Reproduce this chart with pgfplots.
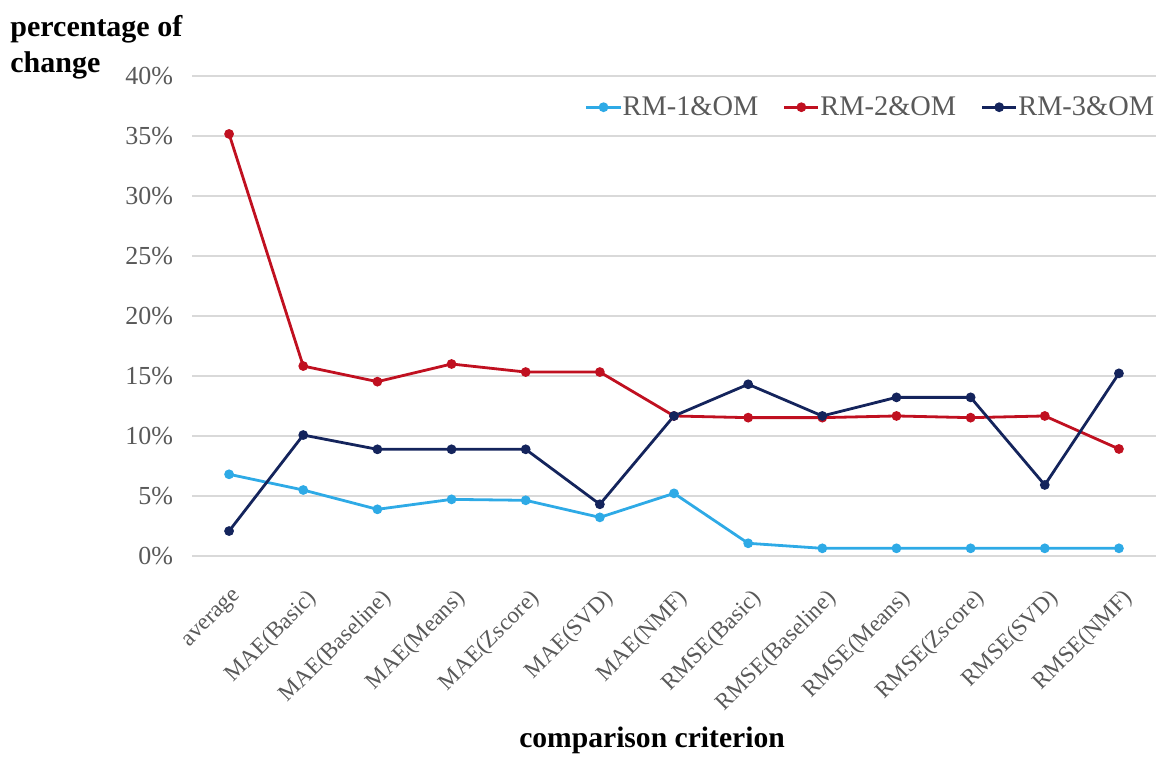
\documentclass[border=0pt]{standalone}
\usepackage{fontspec}
\setmainfont{Liberation Serif}
\usepackage{pgfplots}
\pgfplotsset{compat=1.18}

\definecolor{rmone}{RGB}{46,170,230}
\definecolor{rmtwo}{RGB}{192,16,32}
\definecolor{rmthree}{RGB}{20,36,92}
\definecolor{gridgray}{RGB}{217,217,217}
\definecolor{labelgray}{RGB}{89,89,89}

\begin{document}
\begin{tikzpicture}
\path[use as bounding box] (0,0) rectangle (579.5pt,378pt);
\begin{axis}[
  at={(96pt,100pt)}, anchor=south west,
  scale only axis, width=482pt, height=240pt,
  xmin=-0.5, xmax=12.5, ymin=0, ymax=40,
  axis line style={draw=none},
  major tick length=0pt,
  ymajorgrids, grid style={gridgray, line width=0.8pt},
  ytick={0,5,10,15,20,25,30,35,40},
  yticklabels={0\%,5\%,10\%,15\%,20\%,25\%,30\%,35\%,40\%},
  xtick={0,1,2,3,4,5,6,7,8,9,10,11,12},
  xticklabels={average,MAE(Basic),MAE(Baseline),MAE(Means),MAE(Zscore),MAE(SVD),MAE(NMF),RMSE(Basic),RMSE(Baseline),RMSE(Means),RMSE(Zscore),RMSE(SVD),RMSE(NMF)},
  x tick label style={rotate=45, anchor=north east, inner sep=1pt, xshift=-9pt, yshift=-11pt,
    font=\fontsize{11.6}{11.6}\selectfont, text=labelgray},
  y tick label style={font=\fontsize{13}{13}\selectfont, text=labelgray, xshift=-6pt},
  legend columns=3,
  legend style={at={(1,0.935)}, anchor=east, xshift=2.5pt, draw=none, fill=none,
    font=\fontsize{14.2}{14.2}\selectfont, text=labelgray,
    nodes={inner xsep=0.3pt},
    /tikz/every even column/.append style={column sep=12pt}},
  every axis plot/.append style={line width=1.4pt, mark=*, mark size=1.7pt},
]
\addplot[rmone, mark options={fill=rmone}] coordinates {
  (0,6.81) (1,5.50) (2,3.89) (3,4.72) (4,4.64) (5,3.22) (6,5.22)
  (7,1.06) (8,0.64) (9,0.64) (10,0.64) (11,0.64) (12,0.64)};
\addlegendentry{RM-1\&OM}
\addplot[rmtwo, mark options={fill=rmtwo}] coordinates {
  (0,35.17) (1,15.83) (2,14.53) (3,16.00) (4,15.33) (5,15.33) (6,11.67)
  (7,11.53) (8,11.53) (9,11.67) (10,11.53) (11,11.67) (12,8.92)};
\addlegendentry{RM-2\&OM}
\addplot[rmthree, mark options={fill=rmthree}] coordinates {
  (0,2.08) (1,10.08) (2,8.89) (3,8.89) (4,8.89) (5,4.31) (6,11.67)
  (7,14.31) (8,11.67) (9,13.22) (10,13.22) (11,5.92) (12,15.22)};
\addlegendentry{RM-3\&OM}
\end{axis}
\node[anchor=base west, inner sep=0pt, font=\bfseries\fontsize{15}{15}\selectfont] at (5pt,359.5pt) {percentage of};
\node[anchor=base west, inner sep=0pt, font=\bfseries\fontsize{15}{15}\selectfont] at (5pt,341.5pt) {change};
\node[anchor=base, inner sep=0pt, font=\bfseries\fontsize{14.8}{14.8}\selectfont] at (326pt,4.5pt) {comparison criterion};
\end{tikzpicture}
\end{document}
